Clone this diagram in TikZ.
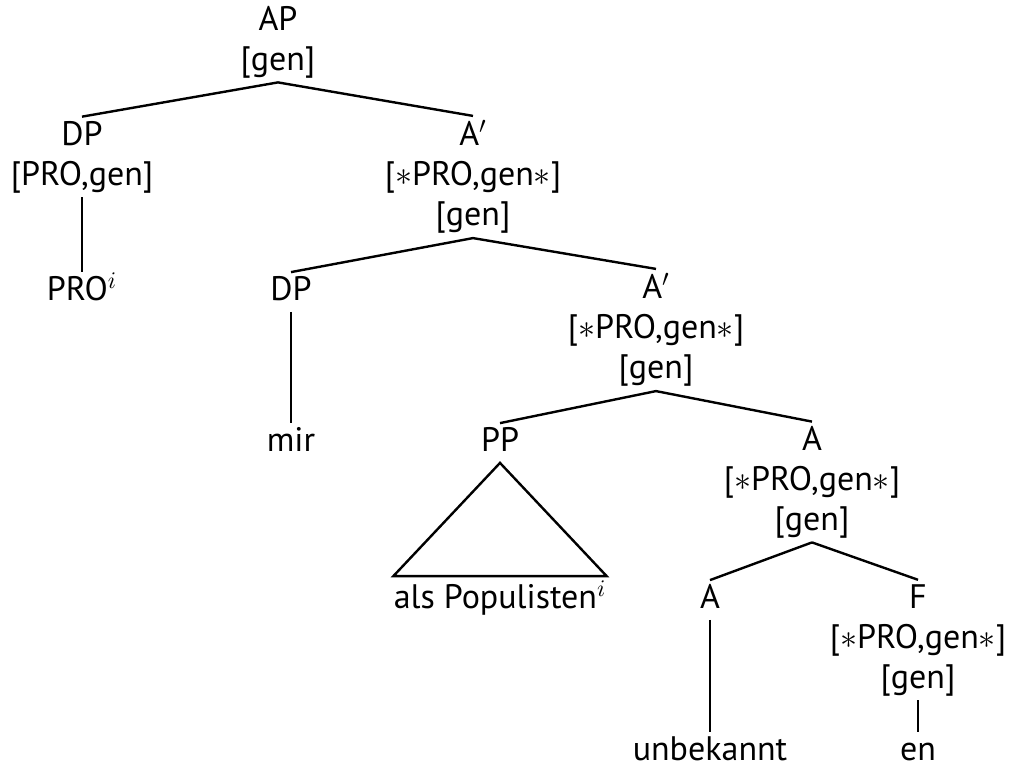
\RequirePackage{fix-cm}
\documentclass[tikz,border=0pt]{standalone}
\usepackage{fontspec}
\setmainfont{PT Sans}
\tikzset{cat/.style={align=center, inner sep=2pt, font=\fontsize{17}{20}\selectfont}}
\tikzset{leaf/.style={cat, text height=12pt, text depth=3.5pt}}
\tikzset{branch/.style={line width=1.2pt}}

\begin{document}
\begin{tikzpicture}[x=0.5pt,y=-0.5pt]
  \useasboundingbox (0,0) rectangle (1026,771);
  % Nodes
  \node[cat] (AP) at (278,42) {AP\\{}[gen]};
  \node[cat] (DPa) at (82,157) {DP\\{}[PRO,gen]};
  \node[leaf] (PRO) at (82,292) {PRO$^i$};
  \node[cat] (Abara) at (473,177) {A$'$\\{}[$\ast$PRO,gen$\ast$]\\{}[gen]};
  \node[leaf] (DPb) at (291,292) {DP};
  \node[leaf] (mir) at (291,443) {mir};
  \node[cat] (Abarb) at (656,330) {A$'$\\{}[$\ast$PRO,gen$\ast$]\\{}[gen]};
  \node[leaf] (PP) at (500,443) {PP};
  \node[leaf, inner xsep=0pt, inner ysep=4pt] (Pop) at (500,600) {als Populisten$^i$};
  \node[cat] (Aa) at (812,482) {A\\{}[$\ast$PRO,gen$\ast$]\\{}[gen]};
  \node[leaf] (Ab) at (710,600) {A};
  \node[leaf] (unb) at (710,752) {unbekannt};
  \node[cat] (F) at (918,640) {F\\{}[$\ast$PRO,gen$\ast$]\\{}[gen]};
  \node[leaf] (en) at (918,752) {en};

  % Branches
  \draw[branch] (AP.south) to (DPa.north);
  \draw[branch] (AP.south) to (Abara.north);
  \draw[branch] (DPa.south) to (PRO.north);
  \draw[branch] (Abara.south) to (DPb.north);
  \draw[branch] (Abara.south) to (Abarb.north);
  \draw[branch] (DPb.south) to (mir.north);
  \draw[branch] (Abarb.south) to (PP.north);
  \draw[branch] (Abarb.south) to (Aa.north);
  \draw[branch] (PP.south) -- (Pop.north west) -- (Pop.north east) -- cycle;
  \draw[branch] (Aa.south) to (Ab.north);
  \draw[branch] (Aa.south) to (F.north);
  \draw[branch] (Ab.south) to (unb.north);
  \draw[branch] (F.south) to (en.north);
\end{tikzpicture}
\end{document}
